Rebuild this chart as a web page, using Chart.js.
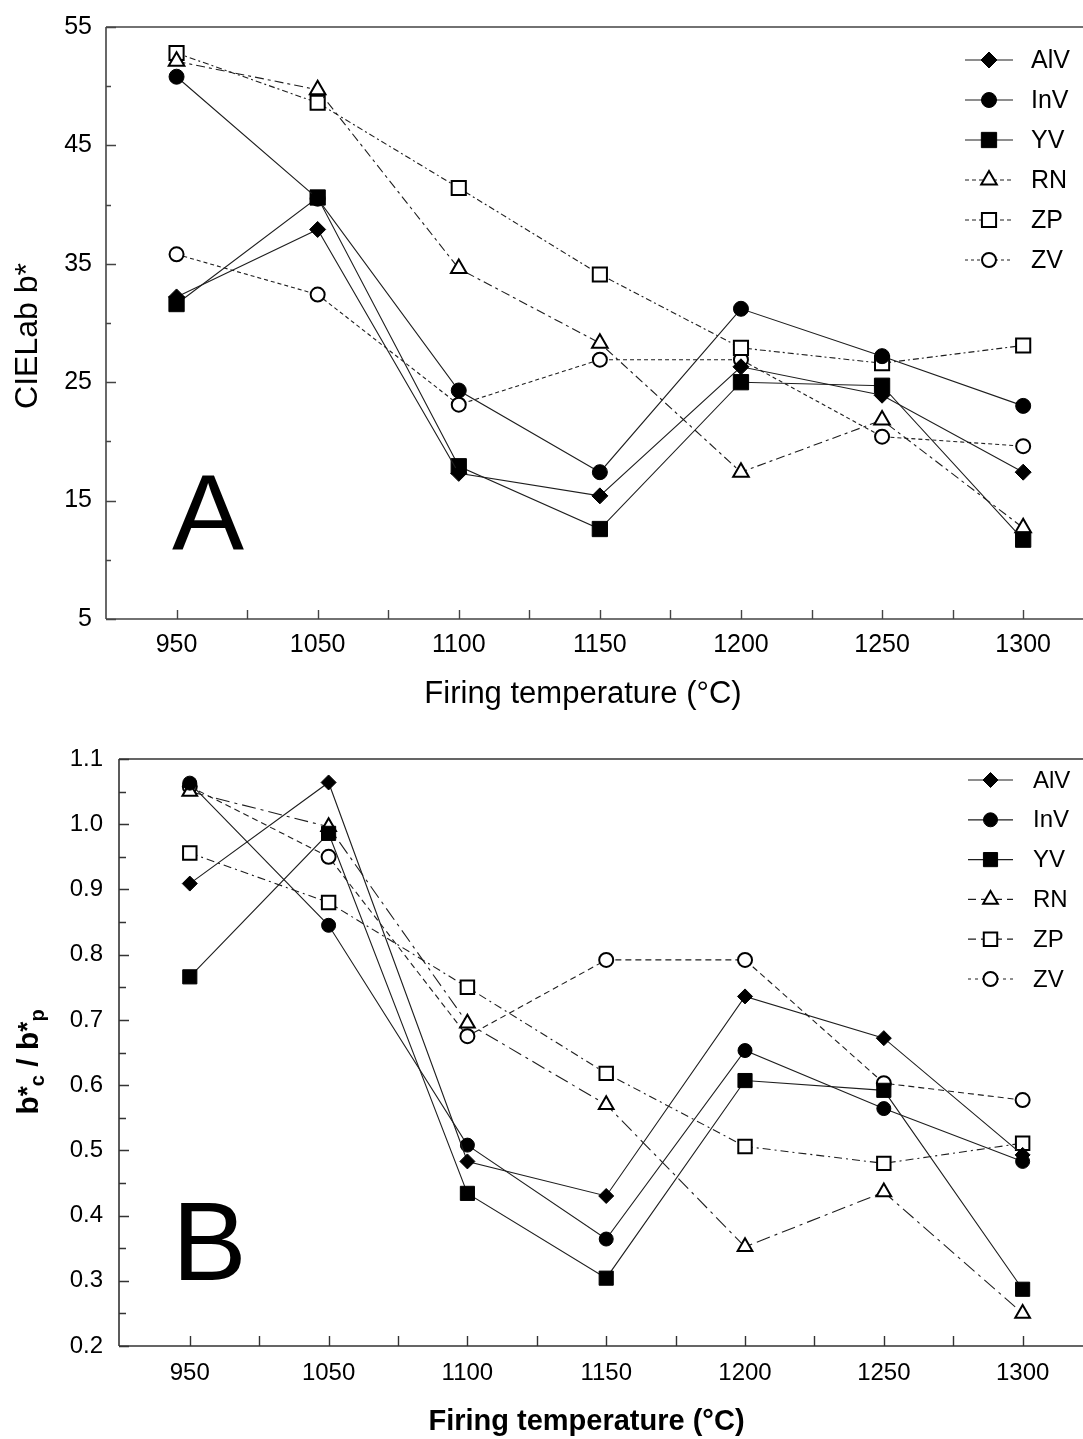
<!DOCTYPE html>
<html><head><meta charset="utf-8">
<script src="https://cdn.jsdelivr.net/npm/chart.js@4.4.0/dist/chart.umd.min.js"></script>
<style>
html,body{margin:0;padding:0;background:#fff;}
#wrap{position:relative;width:1083px;height:1439px;overflow:hidden;background:#fff;}
canvas{position:absolute;left:0;}
#cA{top:0}
#cB{top:720px}
</style></head><body>
<div id="wrap"><canvas id="cA" width="1083" height="720"></canvas><canvas id="cB" width="1083" height="719"></canvas></div>
<script>
// ---------- data ----------
const temps = ['950','1050','1100','1150','1200','1250','1300'];
const seriesNames = ['AlV','InV','YV','RN','ZP','ZV'];

// Panel A: CIELab b*
const bA_AlV = [32.2, 37.9, 17.3, 15.4, 26.3, 23.9, 17.4];
const bA_InV = [50.8, 40.5, 24.3, 17.4, 31.2, 27.2, 23.0];
const bA_YV  = [31.6, 40.6, 17.9, 12.6, 25.0, 24.7, 11.7];
const bA_RN  = [52.1, 49.7, 34.6, 28.3, 17.4, 21.8, 12.7];
const bA_ZP  = [52.8, 48.6, 41.4, 34.1, 27.9, 26.6, 28.1];
const bA_ZV  = [35.8, 32.4, 23.1, 26.9, 26.9, 20.4, 19.6];

// Panel B: b*c / b*p
const rB_AlV = [0.909, 1.064, 0.483, 0.430, 0.736, 0.672, 0.493];
const rB_InV = [1.063, 0.845, 0.508, 0.364, 0.653, 0.564, 0.483];
const rB_YV  = [0.766, 0.986, 0.434, 0.304, 0.607, 0.592, 0.287];
const rB_RN  = [1.050, 0.996, 0.695, 0.570, 0.352, 0.436, 0.250];
const rB_ZP  = [0.956, 0.880, 0.750, 0.618, 0.506, 0.480, 0.511];
const rB_ZV  = [1.058, 0.950, 0.675, 0.792, 0.792, 0.603, 0.577];

const yTicksA = [5,10,15,20,25,30,35,40,45,50,55];
const yLabelsA = ['5','','15','','25','','35','','45','','55'];
const yTicksB = [0.2,0.25,0.3,0.35,0.4,0.45,0.5,0.55,0.6,0.65,0.7,0.75,0.8,0.85,0.9,0.95,1.0,1.05,1.1];
const yLabelsB = ['0.2','','0.3','','0.4','','0.5','','0.6','','0.7','','0.8','','0.9','','1.0','','1.1'];
const xTickPos = [0,0.5,1,1.5,2,2.5,3,3.5,4,4.5,5,5.5,6];

// ---------- styles ----------
const markers = [
  {ps:'rectRot', fill:true},
  {ps:'circle', fill:true},
  {ps:'rect', fill:true},
  {ps:'triangle', fill:false},
  {ps:'rect', fill:false},
  {ps:'circle', fill:false}
];

function buildDatasets(valuesList, o) {
  return valuesList.map((vals, i) => ({
    label: seriesNames[i],
    data: vals.map((v, k) => ({x: k, y: v})),
    borderColor: '#1e1e1e',
    borderWidth: 1.1,
    borderDash: o.dash[i],
    tension: 0,
    fill: false,
    pointStyle: markers[i].ps,
    pointRadius: o.radius[markers[i].ps + (markers[i].fill ? 'F' : 'O')],
    pointBackgroundColor: markers[i].fill ? '#000' : '#fff',
    pointBorderColor: '#000',
    pointBorderWidth: markers[i].fill ? 1 : 2
  }));
}

function decorPlugin(o) {
  return {
    id: 'decor' + o.id,
    afterDraw(chart) {
      const ctx = chart.ctx, ca = chart.chartArea;
      const xs = chart.scales.x, ys = chart.scales.y;
      const W = chart.width;
      ctx.save();
      ctx.setLineDash([]);
      // frame
      ctx.strokeStyle = o.axisColor; ctx.lineWidth = 1.6;
      ctx.beginPath();
      ctx.moveTo(ca.left, ca.top); ctx.lineTo(W, ca.top);
      ctx.moveTo(ca.left, ca.top); ctx.lineTo(ca.left, ca.bottom);
      ctx.moveTo(ca.left, ca.bottom); ctx.lineTo(W, ca.bottom);
      ctx.stroke();
      // ticks inward
      ctx.lineWidth = 1.4;
      ctx.beginPath();
      ys.ticks.forEach(t => {
        const py = Math.round(ys.getPixelForValue(t.value)) + 0.5;
        const len = t.label ? o.yMajor : o.yMinor;
        ctx.moveTo(ca.left, py); ctx.lineTo(ca.left + len, py);
      });
      xs.ticks.forEach(t => {
        const px = Math.round(xs.getPixelForValue(t.value)) + 0.5;
        ctx.moveTo(px, ca.bottom); ctx.lineTo(px, ca.bottom - o.xTick);
      });
      ctx.stroke();
      // legend
      chart.data.datasets.forEach((ds, i) => {
        const y = o.legTop + i * o.legStep;
        ctx.strokeStyle = '#1e1e1e'; ctx.lineWidth = 1.2;
        ctx.setLineDash(o.legDash[i]);
        ctx.beginPath(); ctx.moveTo(o.legX1, y); ctx.lineTo(o.legX2, y); ctx.stroke();
        ctx.setLineDash([]);
        ctx.fillStyle = ds.pointBackgroundColor; ctx.strokeStyle = '#000';
        ctx.lineWidth = ds.pointBorderWidth;
        Chart.helpers.drawPoint(ctx, {pointStyle: ds.pointStyle, radius: ds.pointRadius, rotation: 0, borderWidth: ds.pointBorderWidth}, (o.legX1 + o.legX2) / 2, y);
        ctx.fillStyle = '#000';
        ctx.font = o.legFont; ctx.textBaseline = 'middle'; ctx.textAlign = 'left';
        ctx.fillText(ds.label, o.legText, y + 1);
      });
      // panel letter
      ctx.fillStyle = '#000';
      ctx.font = o.letterFont; ctx.textBaseline = 'alphabetic'; ctx.textAlign = 'left';
      ctx.fillText(o.letter, o.letterX, o.letterY);
      // y title
      if (o.yTitleParts) {
        ctx.save();
        ctx.translate(o.yTitleX, o.yTitleY);
        ctx.rotate(-Math.PI / 2);
        let total = 0;
        o.yTitleParts.forEach(p => { ctx.font = p.font; total += ctx.measureText(p.t).width; });
        let u = -total / 2;
        o.yTitleParts.forEach(p => {
          ctx.font = p.font; ctx.textBaseline = 'alphabetic';
          ctx.fillText(p.t, u, p.dy);
          u += ctx.measureText(p.t).width;
        });
        ctx.restore();
      }
      ctx.restore();
    }
  };
}

function makeChart(id, valuesList, o) {
  return new Chart(document.getElementById(id), {
    type: 'line',
    data: {datasets: buildDatasets(valuesList, o)},
    options: {
      responsive: false, animation: false, devicePixelRatio: 1, events: [],
      layout: {padding: {top: o.padTop, right: o.padRight, left: 0, bottom: 0}},
      plugins: {legend: {display: false}, tooltip: {enabled: false}},
      scales: {
        x: {
          type: 'linear', min: o.xmin, max: o.xmax,
          grid: {display: false}, border: {display: false},
          afterBuildTicks: s => { s.ticks = xTickPos.map(v => ({value: v})); },
          afterFit: s => { s.height = o.xHeight; },
          ticks: {autoSkip: false, maxRotation: 0, minRotation: 0, padding: o.xPad, color: '#000', font: o.tickFont,
                  callback: v => Number.isInteger(v) ? temps[v] : ''},
          title: {display: true, text: 'Firing temperature (°C)', color: '#000', font: o.xTitleFont, padding: {top: 0, bottom: o.xTitlePad}}
        },
        y: {
          type: 'linear', min: o.ymin, max: o.ymax,
          grid: {display: false}, border: {display: false},
          afterBuildTicks: s => { s.ticks = o.yTicks.map(v => ({value: v})); },
          afterFit: s => { s.width = o.yWidth; },
          ticks: {autoSkip: false, padding: o.yPad, color: '#000', font: o.tickFont,
                  callback: (v, idx) => o.yLabels[idx]},
          title: {display: false}
        }
      }
    },
    plugins: [decorPlugin(o)]
  });
}

const fam = '"Liberation Sans", Arial, Helvetica, sans-serif';

makeChart('cA', [bA_AlV, bA_InV, bA_YV, bA_RN, bA_ZP, bA_ZV], {
  id: 'A', padTop: 27, padRight: 23, xHeight: 101, yWidth: 106,
  xmin: -0.5, xmax: 6.261, ymin: 5, ymax: 55, yTicks: yTicksA, yLabels: yLabelsA,
  xPad: 3, yPad: 6, tickFont: {family: fam, size: 25},
  xTitleFont: {family: fam, size: 31}, xTitlePad: 7,
  dash: [[], [], [], [9,4,3,4], [6,3,2,3], [4,3]],
  legDash: [[], [], [], [4,3], [4,3], [3,3]],
  radius: {rectRotF: 8, circleF: 7.5, rectF: 10.8, triangleO: 9, rectO: 10, circleO: 7},
  axisColor: '#444', yMajor: 10, yMinor: 5, xTick: 9,
  legTop: 60, legStep: 40, legX1: 965, legX2: 1013, legText: 1031, legFont: '25px ' + fam,
  letter: 'A', letterFont: '108px ' + fam, letterX: 172, letterY: 550,
  yTitleX: 37, yTitleY: 336,
  yTitleParts: [{t: 'CIELab b*', font: '32px ' + fam, dy: 0}]
});

makeChart('cB', [rB_AlV, rB_InV, rB_YV, rB_RN, rB_ZP, rB_ZV], {
  id: 'B', padTop: 39, padRight: 29, xHeight: 93, yWidth: 119,
  xmin: -0.51, xmax: 6.226, ymin: 0.2, ymax: 1.1, yTicks: yTicksB, yLabels: yLabelsB,
  xPad: 5, yPad: 8, tickFont: {family: fam, size: 24},
  xTitleFont: {family: fam, size: 29, weight: 'bold'}, xTitlePad: 0,
  dash: [[], [], [], [14,5,3,5], [8,4,2,4], [6,4]],
  legDash: [[], [], [], [8,5], [8,5], [3,4]],
  radius: {rectRotF: 7.5, circleF: 7, rectF: 10, triangleO: 8.5, rectO: 9.5, circleO: 7},
  axisColor: '#333', yMajor: 10, yMinor: 7, xTick: 10,
  legTop: 60, legStep: 39.8, legX1: 968, legX2: 1013, legText: 1033, legFont: '24px ' + fam,
  letter: 'B', letterFont: '112px ' + fam, letterX: 172, letterY: 560,
  yTitleX: 38, yTitleY: 342,
  yTitleParts: [
    {t: 'b', font: 'bold 30px ' + fam, dy: 0},
    {t: '*', font: 'bold 26px ' + fam, dy: -2},
    {t: 'c', font: 'bold 20px ' + fam, dy: 6},
    {t: ' / ', font: 'bold 30px ' + fam, dy: 0},
    {t: 'b', font: 'bold 30px ' + fam, dy: 0},
    {t: '*', font: 'bold 26px ' + fam, dy: -2},
    {t: 'p', font: 'bold 20px ' + fam, dy: 6}
  ]
});
</script>
</body></html>
